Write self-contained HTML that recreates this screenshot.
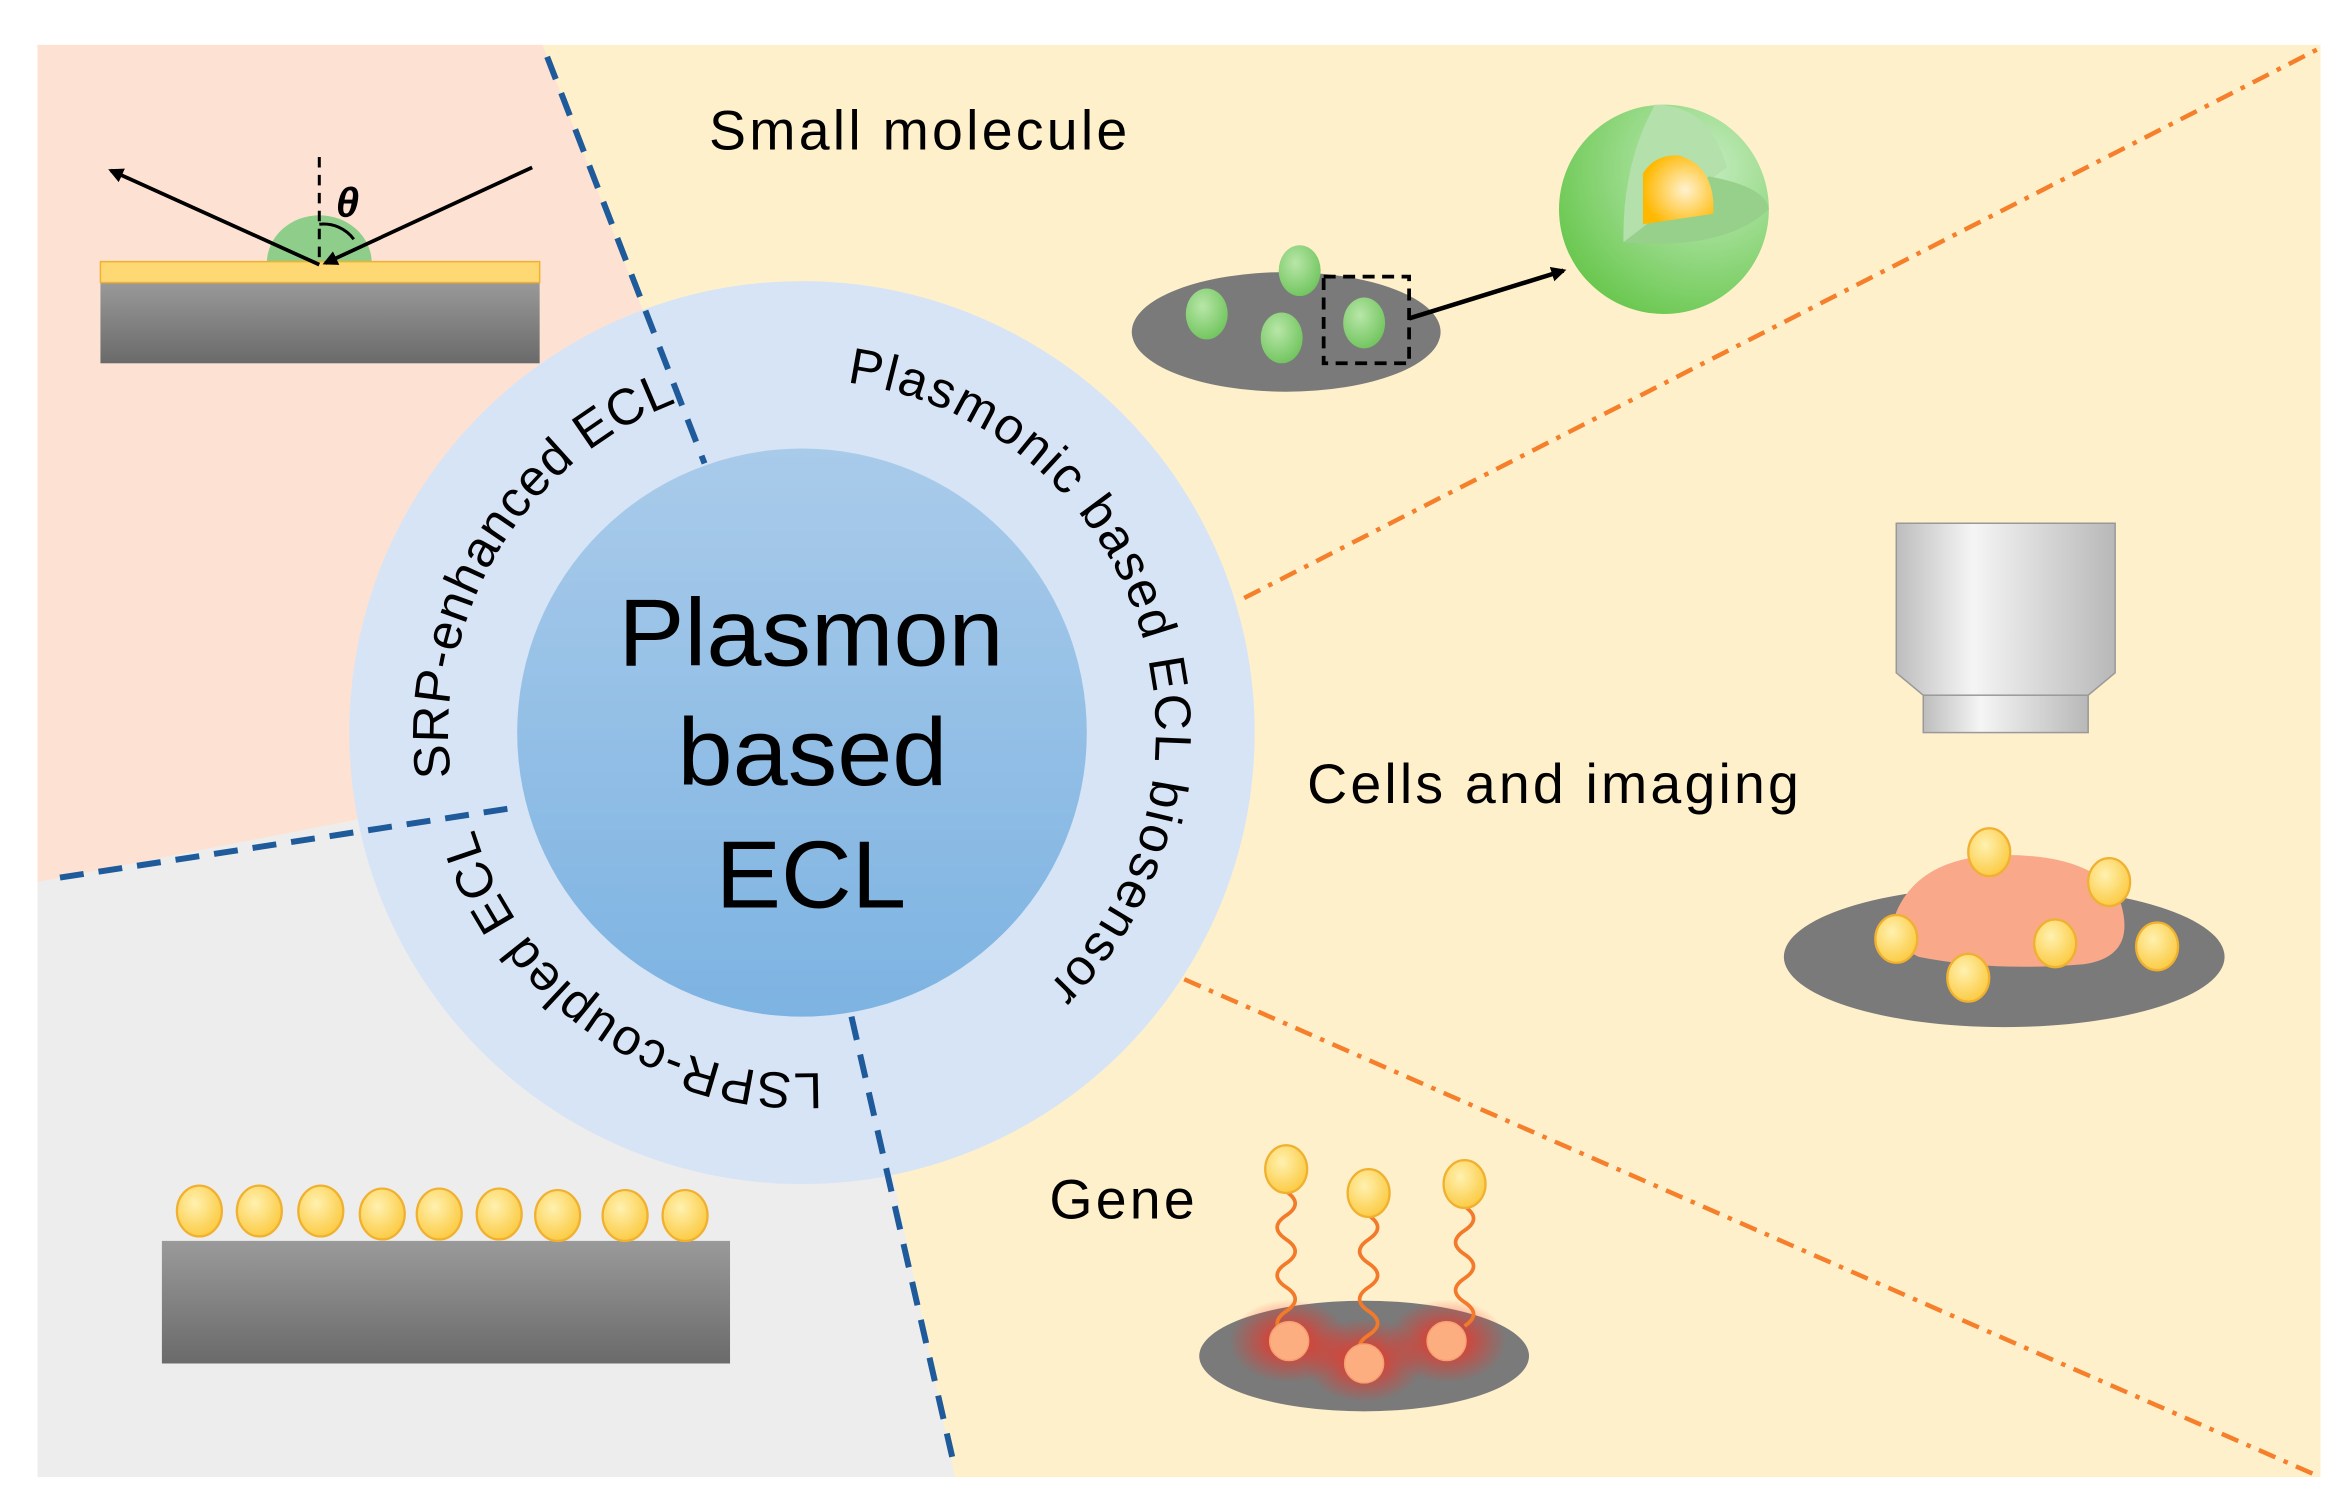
<!DOCTYPE html>
<html><head><meta charset="utf-8"><style>
html,body{margin:0;padding:0;background:#fff;}
svg{display:block;}
text{font-family:"Liberation Sans",Arial,sans-serif;}
</style></head><body>
<svg width="2343" height="1510" viewBox="0 0 1563 1010" preserveAspectRatio="none" xmlns="http://www.w3.org/2000/svg">
<defs>
<linearGradient id="sub" x1="0" y1="0" x2="0" y2="1"><stop offset="0" stop-color="#9a9a9a"/><stop offset="1" stop-color="#6a6a6a"/></linearGradient>
<linearGradient id="inner" x1="0" y1="0" x2="0" y2="1"><stop offset="0" stop-color="#a9cbea"/><stop offset="1" stop-color="#7db3e2"/></linearGradient>
<radialGradient id="gold" cx="0.4" cy="0.35" r="0.7"><stop offset="0" stop-color="#fff1b0"/><stop offset="1" stop-color="#fbc93e"/></radialGradient>
<radialGradient id="grn" cx="0.4" cy="0.35" r="0.7"><stop offset="0" stop-color="#b8e6a8"/><stop offset="1" stop-color="#6fc45c"/></radialGradient>
<radialGradient id="sph" cx="0.7" cy="0.3" r="0.9"><stop offset="0" stop-color="#c5ecc0"/><stop offset="1" stop-color="#5cc23e"/></radialGradient>
<radialGradient id="core" cx="0.6" cy="0.5" r="0.6"><stop offset="0" stop-color="#fff2d0"/><stop offset="1" stop-color="#ffb800"/></radialGradient>
<radialGradient id="glow" cx="0.5" cy="0.5" r="0.5"><stop offset="0" stop-color="#ff2a1a" stop-opacity="0.95"/><stop offset="1" stop-color="#ff2a1a" stop-opacity="0"/></radialGradient>
<linearGradient id="obj" x1="0" y1="0" x2="1" y2="0"><stop offset="0" stop-color="#bdbdbd"/><stop offset="0.35" stop-color="#f5f5f5"/><stop offset="1" stop-color="#b8b8b8"/></linearGradient>
<marker id="ah" markerWidth="10" markerHeight="10" refX="8" refY="5" orient="auto" markerUnits="userSpaceOnUse"><path d="M0,0 L10,5 L0,10 z" fill="#000"/></marker>
<path id="ring1" d="M535,726 A236,236 0 1 1 535,254 A236,236 0 1 1 535,726 A236,236 0 1 1 535,254 A236,236 0 1 1 535,726"/>
<path id="ring2" d="M535,718 A228,228 0 1 1 535,262 A228,228 0 1 1 535,718 A228,228 0 1 1 535,262 A228,228 0 1 1 535,718"/>
</defs>
<rect x="25" y="30" width="1523" height="958" fill="#fff0cc"/>
<polygon points="25,30 362,30 535,490 25,590" fill="#fde2d4"/>
<polygon points="25,590 535,490 637,988 25,988" fill="#ededed"/>
<g stroke="#f57f2a" stroke-width="3" stroke-dasharray="12,6,3,6" fill="none">
<line x1="830" y1="400" x2="1548" y2="32"/><line x1="790" y1="655" x2="1548" y2="988"/></g>
<circle cx="535" cy="490" r="302" fill="#d6e4f5"/>
<g stroke="#1f5a9a" stroke-width="4" stroke-dasharray="16,10" fill="none">
<line x1="365" y1="38" x2="470" y2="310"/><line x1="40" y1="587" x2="345" y2="540"/><line x1="568" y1="680" x2="636" y2="978"/></g>
<circle cx="535" cy="490" r="190" fill="url(#inner)"/>
<text x="541" y="445" font-size="64" text-anchor="middle" textLength="257" lengthAdjust="spacingAndGlyphs">Plasmon</text>
<text x="542" y="525" font-size="64" text-anchor="middle" textLength="180" lengthAdjust="spacingAndGlyphs">based</text>
<text x="541" y="607" font-size="64" text-anchor="middle" textLength="127" lengthAdjust="spacingAndGlyphs">ECL</text>
<text font-size="34"><textPath href="#ring1" startOffset="498" text-anchor="middle" textLength="315" lengthAdjust="spacing">SRP-enhanced ECL</textPath></text>
<text font-size="34"><textPath href="#ring1" startOffset="1036" text-anchor="middle" textLength="530" lengthAdjust="spacing">Plasmonic based ECL biosensor</textPath></text>
<text font-size="34"><textPath href="#ring2" startOffset="1572" text-anchor="middle" textLength="306" lengthAdjust="spacing">LSPR-coupled ECL</textPath></text>
<!-- top-left -->
<rect x="67" y="188" width="293" height="55" fill="url(#sub)"/>
<path d="M178,176 A35,32 0 0 1 248,176 z" fill="#8fce8a"/>
<rect x="67" y="175" width="293" height="14" fill="#fdd873" stroke="#f0b030" stroke-width="1"/>
<line x1="213" y1="105" x2="213" y2="177" stroke="#000" stroke-width="2" stroke-dasharray="7,5"/>
<line x1="355" y1="112" x2="217" y2="176" stroke="#000" stroke-width="2.5" marker-end="url(#ah)"/>
<line x1="213" y1="177" x2="74" y2="114" stroke="#000" stroke-width="2.5" marker-end="url(#ah)"/>
<path d="M213,150 A25,25 0 0 1 236,160" fill="none" stroke="#000" stroke-width="2"/>
<text x="224" y="145" font-size="28" font-weight="bold" font-style="italic">θ</text>
<!-- small molecule -->
<text x="473" y="100" font-size="37" textLength="279" lengthAdjust="spacing">Small  molecule</text>
<ellipse cx="858" cy="222" rx="103" ry="40" fill="#7a7a7a"/>
<g fill="url(#grn)">
<ellipse cx="805" cy="210" rx="14" ry="17"/><ellipse cx="867" cy="181" rx="14" ry="17"/><ellipse cx="855" cy="226" rx="14" ry="17"/><ellipse cx="910" cy="216" rx="14" ry="17"/></g>
<rect x="883" y="185" width="57" height="58" fill="none" stroke="#000" stroke-width="2.5" stroke-dasharray="8,5"/>
<line x1="940" y1="213" x2="1043" y2="181" stroke="#000" stroke-width="3" marker-end="url(#ah)"/>
<circle cx="1110" cy="140" r="70" fill="url(#sph)"/>
<path d="M1104,70 Q1140,70 1152,112 L1083,162 Q1082,110 1104,70 z" fill="#b3e0ab"/>
<path d="M1083,162 L1140,118 Q1178,125 1180,140 Q1150,168 1083,162 z" fill="#96d08b"/>
<path d="M1096,150 L1096,116 Q1104,103 1120,104 Q1141,110 1143,135 L1143,143 z" fill="url(#core)"/>
<!-- objective -->
<path d="M1265,350 L1411,350 L1411,450 L1393,465 L1283,465 L1265,450 z" fill="url(#obj)" stroke="#999" stroke-width="1"/>
<rect x="1283" y="465" width="110" height="25" fill="url(#obj)" stroke="#999" stroke-width="1"/>
<text x="872" y="537" font-size="37" textLength="328" lengthAdjust="spacing">Cells  and  imaging</text>
<ellipse cx="1337" cy="640" rx="147" ry="47" fill="#7a7a7a"/>
<path d="M1265,610 Q1280,575 1330,572 Q1400,570 1415,605 Q1425,640 1390,645 Q1330,650 1280,640 Q1258,630 1265,610 z" fill="#f9a88a"/>
<g fill="url(#gold)" stroke="#f0b030" stroke-width="1.5">
<ellipse cx="1327" cy="570" rx="14" ry="16"/><ellipse cx="1407" cy="590" rx="14" ry="16"/><ellipse cx="1265" cy="628" rx="14" ry="16"/><ellipse cx="1371" cy="631" rx="14" ry="16"/><ellipse cx="1439" cy="633" rx="14" ry="16"/><ellipse cx="1313" cy="654" rx="14" ry="16"/></g>
<!-- gene -->
<text x="700" y="815" font-size="37" textLength="97" lengthAdjust="spacing">Gene</text>
<ellipse cx="910" cy="907" rx="110" ry="37" fill="#7a7a7a"/>
<ellipse cx="860" cy="897" rx="40" ry="28" fill="url(#glow)"/><ellipse cx="910" cy="910" rx="40" ry="28" fill="url(#glow)"/><ellipse cx="965" cy="897" rx="40" ry="28" fill="url(#glow)"/>
<g fill="none" stroke="#f27a2a" stroke-width="2.5">
<path d="M858,797 q12,8 0,16 q-12,8 0,16 q12,8 0,16 q-12,8 0,16 q12,8 0,16 q-12,8 0,18"/>
<path d="M913,813 q12,8 0,16 q-12,8 0,16 q12,8 0,16 q-12,8 0,16 q12,8 0,16 q-12,8 0,14"/>
<path d="M977,807 q12,8 0,16 q-12,8 0,16 q12,8 0,16 q-12,8 0,16 q12,8 0,16"/></g>
<g fill="#fcae80" stroke="#f5a070" stroke-width="1"><circle cx="860" cy="897" r="13"/><circle cx="910" cy="912" r="13"/><circle cx="965" cy="897" r="13"/></g>
<g fill="url(#gold)" stroke="#f0b030" stroke-width="1.5"><ellipse cx="858" cy="782" rx="14" ry="16"/><ellipse cx="913" cy="798" rx="14" ry="16"/><ellipse cx="977" cy="792" rx="14" ry="16"/></g>
<!-- bottom-left -->
<rect x="108" y="830" width="379" height="82" fill="url(#sub)"/>
<g fill="url(#gold)" stroke="#f0b030" stroke-width="1.5">
<ellipse cx="133" cy="810" rx="15" ry="17"/><ellipse cx="173" cy="810" rx="15" ry="17"/><ellipse cx="214" cy="810" rx="15" ry="17"/><ellipse cx="255" cy="812" rx="15" ry="17"/><ellipse cx="293" cy="812" rx="15" ry="17"/><ellipse cx="333" cy="812" rx="15" ry="17"/><ellipse cx="372" cy="813" rx="15" ry="17"/><ellipse cx="417" cy="813" rx="15" ry="17"/><ellipse cx="457" cy="813" rx="15" ry="17"/></g>
</svg>
</body></html>
